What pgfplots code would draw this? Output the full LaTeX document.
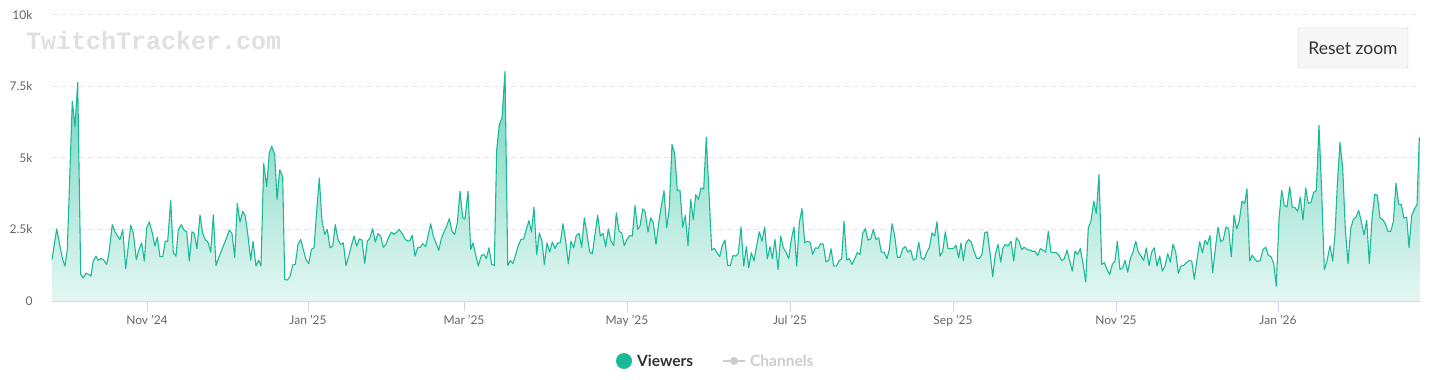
\documentclass[border=0pt]{standalone}
\usepackage{pgfplots}
\pgfplotsset{compat=1.18}
\usepackage{pgfplotstable}
\usepackage{fontspec}
\setmainfont{Lato}
\newfontfamily\monof{Liberation Mono}
\definecolor{tealc}{RGB}{26,186,152}
\definecolor{axisc}{HTML}{CCD6EB}
\definecolor{gridc}{HTML}{E6E6E6}
\definecolor{labc}{HTML}{666666}
\definecolor{darkc}{HTML}{333333}
\definecolor{hidc}{HTML}{CCCCCC}
\pgfplotstableread[row sep=\\]{
x y\\
52 1450\\ 56.7 2520\\ 60 1920\\ 62.7 1450\\ 65 1220\\ 67.3 1800\\ 72.3 6980\\ 75 6100\\ 77.7 7640\\ 80.7 930\\
83.3 810\\ 86 970\\ 88.7 930\\ 91 870\\ 93.3 1400\\ 96 1570\\ 98.3 1420\\ 101 1490\\ 103.3 1450\\ 106.7 1280\\
109 1690\\ 112.3 2670\\ 115 2420\\ 117.3 2290\\ 120 2150\\ 122.7 2500\\ 125.7 1130\\ 128.3 1920\\ 130.7 2650\\ 133.3 2380\\
136.3 1450\\ 139 1800\\ 141.7 2030\\ 144.3 1400\\ 146.7 2560\\ 149.3 2770\\ 152.3 2380\\ 155 1920\\ 157.3 2230\\ 160 1550\\
162.7 1550\\ 165.3 2090\\ 167.7 2090\\
170.7 3510\\ 173.3 1690\\ 176 1570\\ 178.3 2500\\ 181.3 2670\\ 184 2480\\ 186.7 2420\\ 189.3 1400\\ 192 2420\\ 194.3 2360\\
197 1830\\ 200 3010\\ 202.7 2360\\ 205.3 2150\\ 208.3 2030\\ 210.7 1710\\ 213.3 3010\\ 216 1240\\ 218.7 1510\\ 221.3 1740\\
224 1980\\ 226.7 2210\\ 229.3 2480\\ 232 2360\\ 234.7 1530\\ 237.3 3410\\ 240 2760\\ 242.7 3140\\ 245.3 2970\\ 248 2270\\
250.7 1430\\ 253 2090\\ 256 1220\\ 258.7 1430\\ 261 1220\\ 263.7 4800\\ 266.7 4000\\ 269.3 5170\\ 271.7 5410\\ 274.7 5120\\
277 3550\\ 279.7 4590\\
282.7 4340\\ 284.7 760\\ 287.3 730\\ 290 850\\ 292.7 1260\\ 295.3 1280\\ 298 1980\\ 300.7 2150\\ 303.3 1800\\ 306 1450\\
308.7 1310\\ 311.3 1800\\ 314 1860\\ 316.7 3140\\ 319.3 4300\\ 322 2790\\ 324.7 2330\\ 327.3 2500\\ 330 1860\\ 332.7 1920\\
335.3 2670\\ 338 2150\\ 340.7 1980\\ 343.3 2030\\ 346 1240\\ 348.7 1570\\ 351.3 1920\\ 354 2270\\ 356.7 1920\\ 359.3 2170\\
362 2130\\ 364.7 1310\\ 367.3 2090\\ 370 2210\\ 372.7 2530\\ 375.3 2060\\ 378 2360\\ 380.7 2270\\ 383.3 1880\\ 386 1980\\
388.7 2230\\ 391.3 2410\\ 394 2330\\ 396.7 2410\\ 399.3 2500\\
402.7 2330\\ 405.3 2150\\ 408 2090\\ 410 2120\\ 412.3 2300\\ 415 1570\\ 417.7 1860\\ 420.3 1880\\ 422.7 2010\\ 425.7 1900\\
428 2270\\ 430.7 2700\\ 433.3 2270\\ 436 2030\\ 438.7 1770\\ 441.3 2170\\ 444 2420\\ 446.7 2620\\ 449.3 2880\\ 452 2440\\
454.7 2330\\ 457.3 2730\\ 460 3840\\ 462.7 2910\\ 465 2870\\ 468 3840\\ 470.7 1800\\ 473 2030\\ 476 1570\\ 478.3 1220\\
481.3 1590\\ 484 1630\\ 486.3 1480\\ 489 1860\\ 491.7 1280\\ 494.3 1240\\ 496.7 5290\\ 499.3 6160\\ 502 6400\\ 505 8020\\
507.7 1240\\ 510.3 1420\\ 513 1310\\ 515.7 1630\\ 518.3 1940\\
521 2150\\ 523.7 2170\\ 526.3 2500\\ 529 2810\\ 531.5 2410\\ 534 3280\\ 536.7 1630\\ 539.3 2380\\ 542 2090\\ 544.3 1280\\
547 2030\\ 549.7 1710\\ 552.3 2060\\ 555 1840\\ 557.7 2030\\ 560.3 2030\\ 563 2700\\ 565.7 2090\\ 568.3 1300\\ 571 2090\\
573.7 1860\\ 576.3 2300\\ 579 2360\\ 581.7 1880\\ 584.3 2910\\ 587 2330\\ 589.7 1710\\ 592.3 1650\\ 595 2330\\ 597.7 3000\\
600.3 2270\\ 603 2360\\ 605.7 1900\\ 608.3 2520\\ 611 2090\\ 613.7 1940\\ 616.3 3080\\ 619 2440\\ 621.7 2380\\ 624.3 1940\\
627 2150\\ 629.7 2290\\ 632.3 2270\\ 635 3340\\ 637.7 2500\\
640 2620\\ 642.7 3220\\ 645 3140\\ 648 2410\\ 650.7 2910\\ 653.3 2730\\ 656 1980\\ 658.7 2730\\ 661.3 3310\\ 664 3860\\
666.7 2560\\ 669.3 3260\\ 672 5470\\ 674.7 5150\\ 677.3 3860\\ 680 3870\\ 682.7 2580\\ 685.3 2990\\ 688 1940\\ 690.7 3550\\
693.3 2850\\ 695.7 3720\\ 698.3 3550\\ 701 3950\\ 703.7 3920\\ 706.3 5730\\ 711.7 1780\\ 714.3 1840\\ 717 1690\\ 719.7 1550\\
722.3 1940\\ 725 2130\\ 727.7 1240\\ 730.3 1240\\ 733 1590\\ 735.7 1570\\ 738.3 1660\\ 741 2590\\ 743.7 1220\\ 746.3 1900\\
748.7 1160\\ 751.3 1690\\ 754 1400\\ 756.7 1940\\
759.3 2420\\ 762 2090\\ 764.7 2590\\ 767.3 1480\\ 770 1900\\ 772.3 1480\\ 775 2150\\ 778 1100\\ 780.7 2270\\ 783.3 1860\\
786 1710\\ 788.7 1480\\ 791.3 2150\\ 794 2590\\ 796.7 1220\\ 799.3 2730\\ 802 3230\\ 804.7 2030\\ 807.3 2090\\ 810 2060\\
812.7 1630\\ 815.3 1860\\ 818 1840\\ 820.7 2010\\ 823.3 1980\\ 826 1370\\ 828.7 1420\\ 831 1830\\ 833.7 1220\\ 836.3 1220\\
839 1400\\ 841.7 1480\\ 844 2790\\ 846.7 1430\\ 849.3 1480\\ 852 1280\\ 854.7 1480\\ 857.3 1690\\ 860 1630\\ 862.7 2360\\
865.3 2530\\ 868 2130\\ 870.7 2170\\ 873.3 2500\\ 876 2150\\ 878.7 2210\\
881.3 1710\\ 884 1710\\ 887 1480\\ 889.3 1800\\ 892 2700\\ 894.7 2270\\ 897.3 1530\\ 900 1530\\ 902.7 1830\\ 905.3 1900\\
908 1710\\ 910.7 1780\\ 913.3 1430\\ 916 1480\\ 918.7 2060\\ 921.3 1510\\ 924 1450\\ 926.7 1690\\ 929.3 1860\\ 932 2380\\
934.7 2270\\ 937 2770\\ 940 1570\\ 942.7 1740\\ 945.3 2420\\ 948 1830\\ 950.7 1840\\ 953.3 1830\\ 956 1950\\ 958.7 1510\\
961 2030\\ 963.3 1420\\ 966 2030\\ 968.7 2150\\ 971.3 2060\\ 974 1740\\ 976.7 1490\\ 979.3 1490\\ 982 1630\\ 984.7 2380\\
987.3 2420\\ 990 1690\\ 992.7 850\\ 995.3 1630\\ 998 1980\\ 1000.7 1360\\
1002.7 1830\\ 1005.3 1980\\ 1008 1920\\ 1011 2090\\ 1013.7 1400\\ 1016.3 2210\\ 1019 2090\\ 1021.7 1800\\ 1024.3 1880\\ 1027 1800\\
1029.7 1780\\ 1032.3 1740\\ 1035 1740\\ 1037.7 1590\\ 1040.3 1830\\ 1043 1780\\ 1045.7 1710\\ 1048.3 2440\\ 1051 1690\\ 1053.7 1690\\
1056.3 1690\\ 1059 1590\\ 1061.7 1420\\ 1064.3 1480\\ 1067 1780\\ 1069.7 1400\\ 1072.3 1050\\ 1075 1740\\ 1077.7 1630\\ 1080.3 1830\\
1083 1310\\ 1085.7 670\\ 1088.3 2560\\ 1091 2790\\ 1093.7 3490\\ 1096.3 3060\\ 1099 4420\\ 1101.7 1280\\ 1104.3 1340\\ 1107 1100\\
1109.7 930\\ 1112.3 1280\\ 1115 1400\\ 1117.3 2090\\
1120 1100\\ 1122.7 1160\\ 1125 1420\\ 1127.7 1010\\ 1130.3 1480\\ 1133 1710\\ 1135.7 2090\\ 1138.3 1710\\ 1141 1570\\ 1143.7 1420\\
1146.3 1860\\ 1149 1240\\ 1151.7 1710\\ 1154.3 1860\\ 1157 1220\\ 1159.7 1570\\ 1162.3 1050\\ 1165 1220\\ 1167.7 1660\\ 1170.3 1360\\
1173 1980\\ 1175.7 1710\\ 1178.3 970\\ 1181 1220\\ 1183.7 1240\\ 1186.3 1340\\ 1189 1410\\ 1191.7 1400\\ 1194.3 760\\ 1197 1450\\
1199.7 2070\\ 1202.3 1690\\ 1205 2120\\ 1207.3 1980\\ 1210 2290\\ 1212.7 990\\ 1215.3 1830\\ 1218 2580\\ 1220.7 2070\\ 1223.3 2150\\
1226 2590\\ 1228.7 2520\\ 1231.3 1550\\ 1234 3000\\ 1236.7 2520\\ 1239.3 2810\\ 1242 3490\\ 1244.7 3410\\ 1247 3920\\ 1249.7 1400\\
1252.3 1600\\ 1255 1450\\ 1257.7 1370\\ 1260.3 1430\\ 1263 1800\\ 1265.7 1880\\ 1268.3 1600\\ 1271 1550\\ 1273.7 1310\\ 1276.3 520\\
1279 2870\\ 1281.7 3870\\ 1284.3 3340\\ 1287 3290\\ 1289.7 3990\\ 1292.3 3280\\ 1295 3260\\ 1297.7 3140\\ 1300.3 3630\\ 1303 2830\\
1305.7 3950\\ 1308.3 3410\\ 1311 3450\\ 1313.7 3800\\ 1316.3 3860\\ 1319 6140\\ 1321.7 3780\\ 1324.3 1100\\ 1327 1400\\
1330 1930\\ 1332.7 1400\\ 1335 2340\\ 1337.3 4060\\ 1340 5540\\ 1342.7 4650\\ 1345.3 2520\\ 1348 1310\\ 1350.7 2540\\ 1353.3 2850\\
1356 2930\\ 1358.7 3170\\ 1361.3 2780\\ 1364 2310\\ 1366.7 2820\\ 1369.3 1310\\ 1372 2880\\ 1374.7 3730\\ 1377.3 3700\\ 1380 2900\\
1382.7 2850\\ 1385.3 2700\\ 1388 2430\\ 1390.7 2440\\ 1393.3 2760\\ 1396 4120\\ 1398.7 3380\\ 1401.3 3370\\ 1404 2900\\ 1406.7 2930\\
1409 1870\\ 1411.7 2990\\ 1414.3 3210\\ 1417 3370\\ 1419.3 5720\\
}\viewers
\begin{document}
\begin{tikzpicture}[x=1pt,y=1pt]
\useasboundingbox (-52,-79) rectangle (1388,301);
\fill[white] (-52,-79) rectangle (1388,301);
\node[anchor=west, text=black!12, font=\monof\bfseries\fontsize{25}{25}\selectfont, inner sep=0pt] at (-26,260) {TwitchTracker.com};
\begin{axis}[
  at={(0,0)}, anchor=south west,
  scale only axis, width=1368pt, height=286pt,
  xmin=52, xmax=1420, ymin=0, ymax=10000,
  axis lines*=left,
  x axis line style={draw=axisc, line width=1pt, -},
  y axis line style={draw=none},
  xtick={147,308,464,627,790,953,1116,1278},
  xticklabels={Nov '24, Jan '25, Mar '25, May '25, Jul '25, Sep '25, Nov '25, Jan '26},
  ytick={0,2500,5000,7500,10000},
  yticklabels={0,2.5k,5k,7.5k,10k},
  scaled y ticks=false,
  scaled x ticks=false,
  tick align=outside,
  major tick length=10pt,
  xtick style={draw=axisc, line width=1pt},
  ytick style={draw=none},
  ymajorgrids,
  grid style={draw=gridc, line width=1pt, dash pattern=on 5pt off 4pt},
  tick label style={font=\fontsize{12}{14}\selectfont, text=labc},
  /pgf/number format/assume math mode=true,
  xticklabel style={yshift=-1pt},
  yticklabel style={xshift=-6pt},
  clip=false,
]
\addplot[draw=none, top color=tealc!62!white, bottom color=tealc!12!white] table {\viewers} \closedcycle;
\addplot[color=tealc, line width=1.1pt, line join=round] table {\viewers};
\end{axis}
% Reset zoom button
\draw[draw=hidc, fill=black!3, rounded corners=2pt] (1246,273) rectangle (1356,233);
\node[text=darkc, font=\fontsize{17.5}{19}\selectfont] at (1301,253) {Reset zoom};
% legend
\fill[tealc] (572,-60) circle (8);
\node[anchor=west, text=darkc, font=\bfseries\fontsize{15.5}{17}\selectfont, inner sep=0pt] at (585,-60) {Viewers};
\draw[hidc, line width=2pt] (671,-60) -- (693,-60);
\fill[hidc] (682,-60) circle (4);
\node[anchor=west, text=hidc, font=\bfseries\fontsize{15.5}{17}\selectfont, inner sep=0pt] at (698,-60) {Channels};
\end{tikzpicture}
\end{document}
